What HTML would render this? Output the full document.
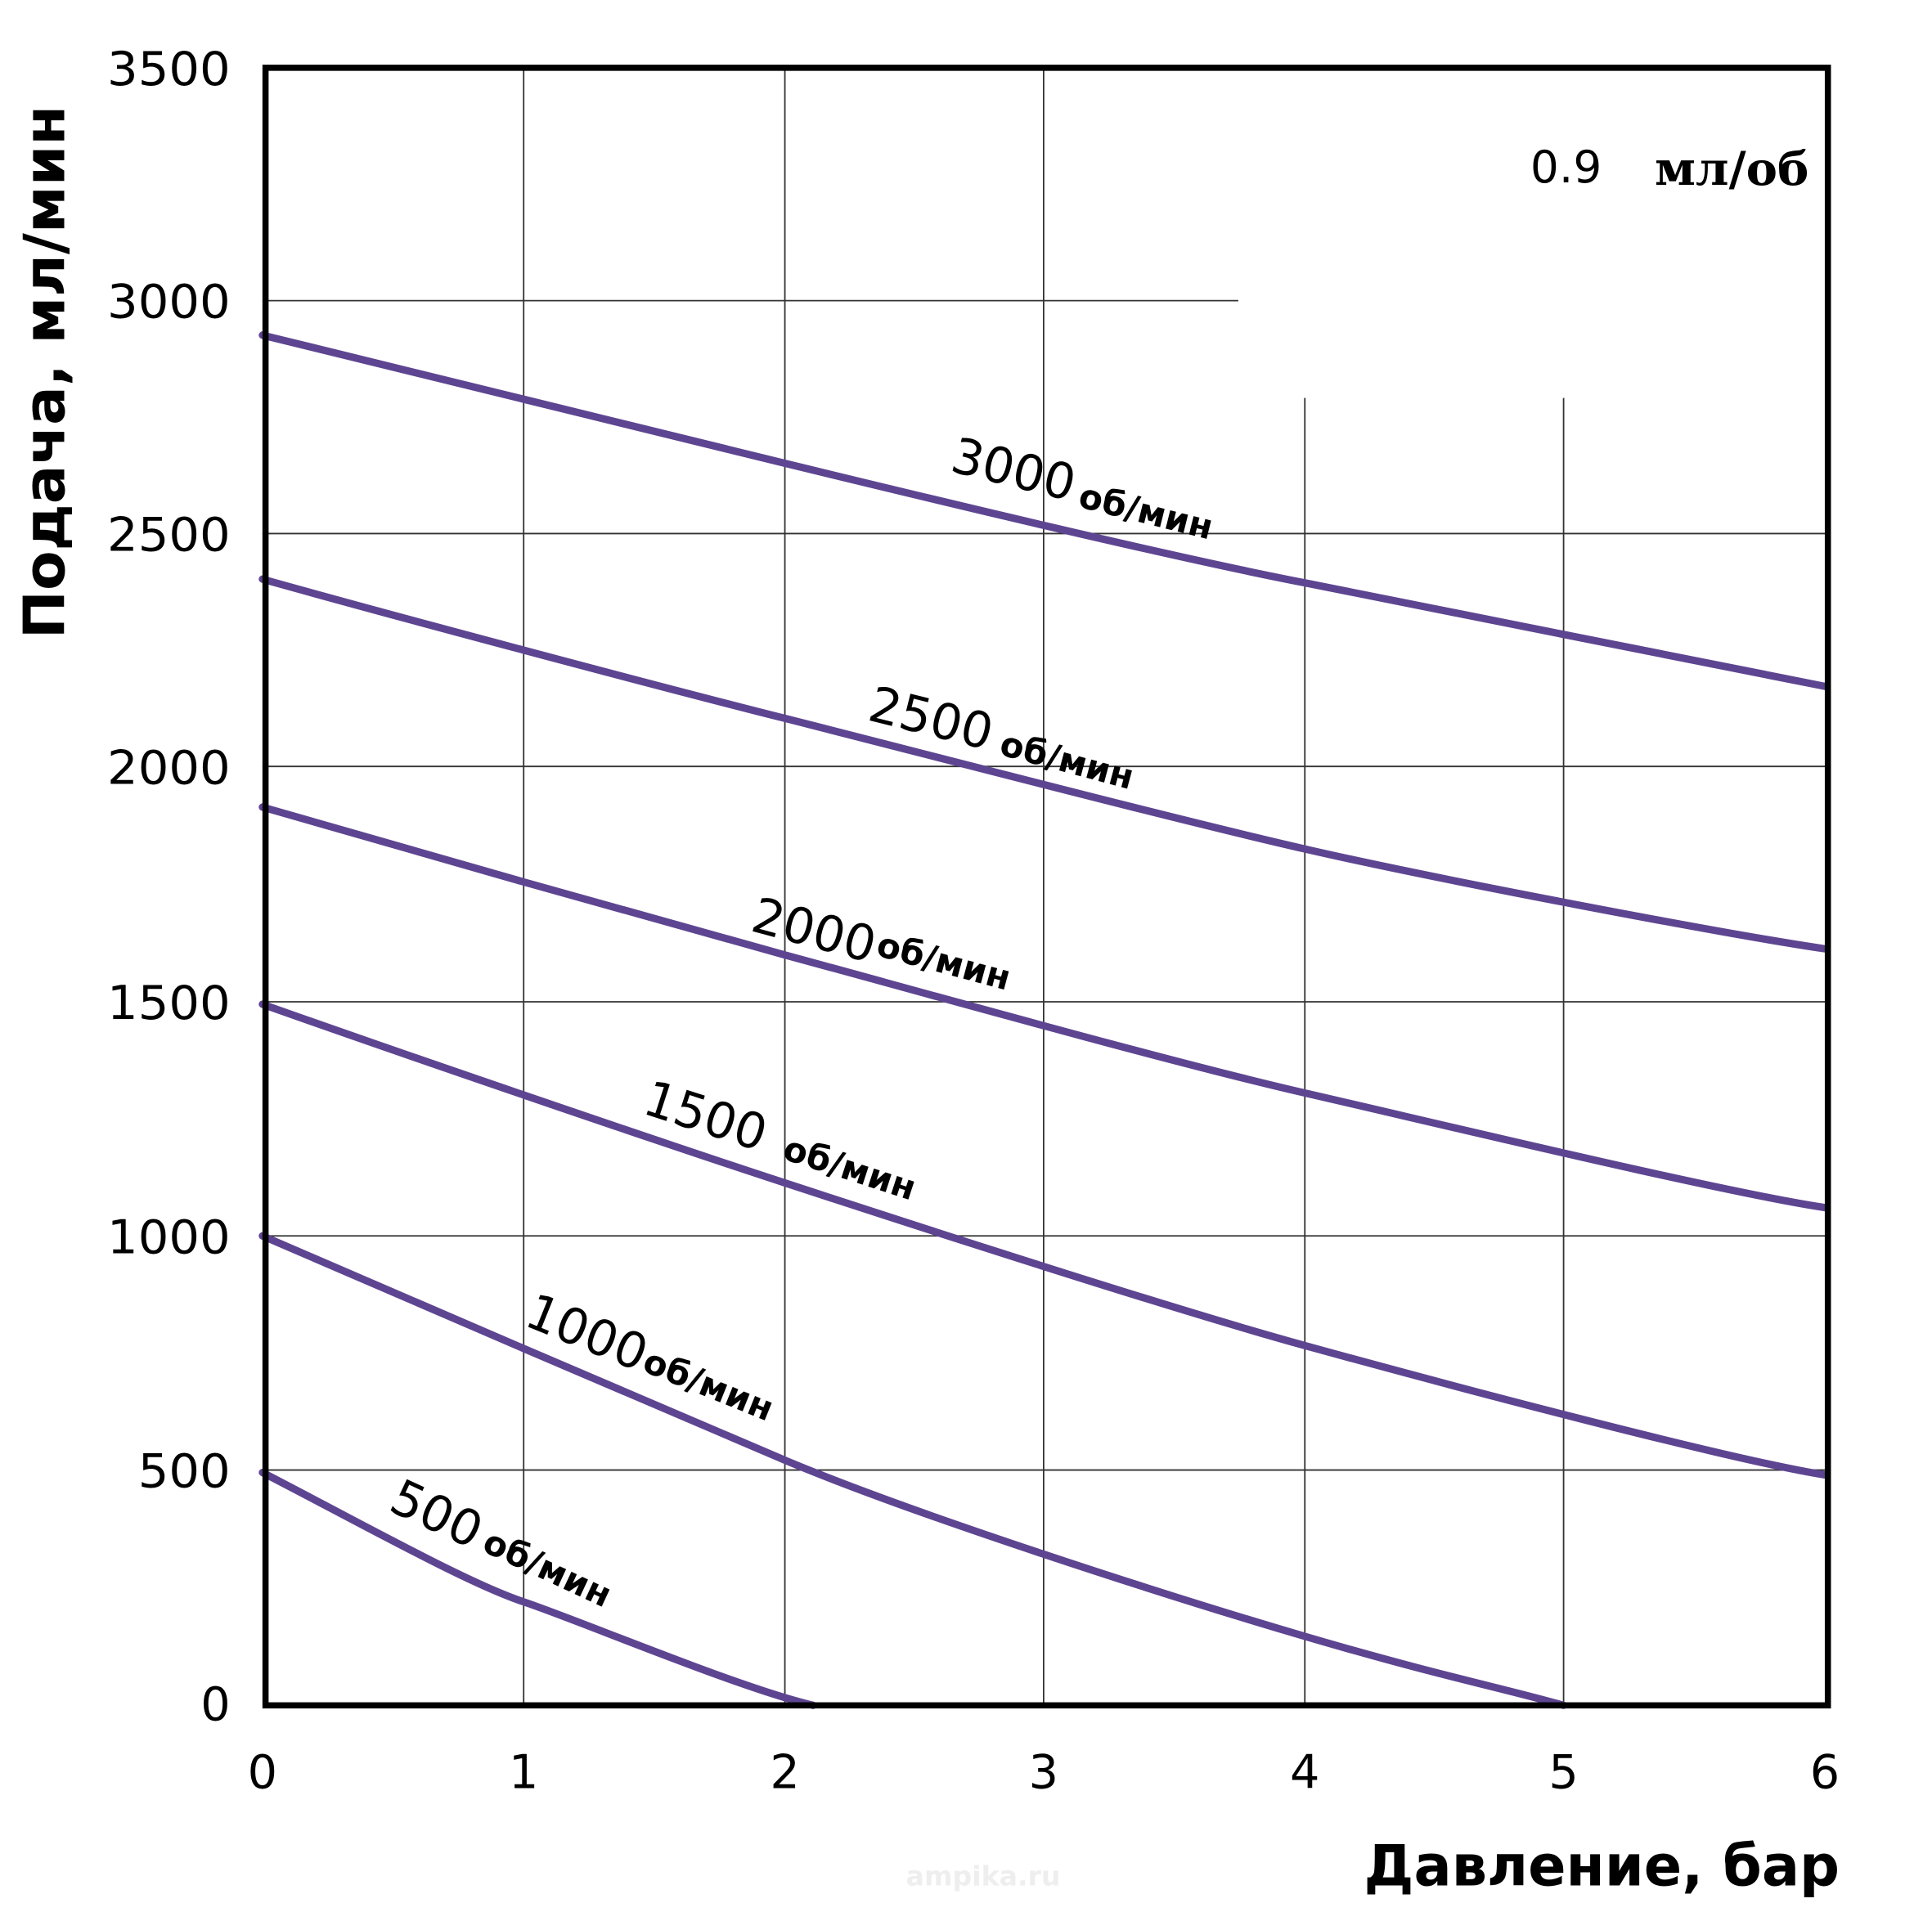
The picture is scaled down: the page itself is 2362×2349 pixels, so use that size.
<!DOCTYPE html>
<html><head><meta charset="utf-8"><style>html,body{margin:0;padding:0;background:#fff}svg{display:block}</style></head>
<body>
<svg width="2362" height="2349" viewBox="0 0 1568 1559" preserveAspectRatio="none" xmlns="http://www.w3.org/2000/svg">
<rect width="1568" height="1559" fill="#fff"/>
<g stroke="#333" stroke-width="1.2" fill="none">
<line x1="425" y1="55" x2="425" y2="1384"/>
<line x1="637" y1="55" x2="637" y2="1384"/>
<line x1="847" y1="55" x2="847" y2="1384"/>
<line x1="1059" y1="323" x2="1059" y2="1384"/>
<line x1="1269" y1="323" x2="1269" y2="1384"/>
<line x1="213" y1="244" x2="1005" y2="244"/>
<line x1="213" y1="433" x2="1486" y2="433"/>
<line x1="213" y1="622" x2="1486" y2="622"/>
<line x1="213" y1="813" x2="1486" y2="813"/>
<line x1="213" y1="1003" x2="1486" y2="1003"/>
<line x1="213" y1="1193" x2="1486" y2="1193"/>
</g>
<g stroke="#5e4591" stroke-width="6" fill="none" stroke-linecap="round">
<path d="M213,272 C320,298 530,350 637,376 S950,452 1059,473 S1400,542 1481,557"/>
<path d="M213,470 C320,500 530,556 637,583 S950,664 1059,689 S1400,758 1481,770"/>
<path d="M213,655 C320,686 530,746 637,775 S950,862 1059,887 S1400,968 1481,980"/>
<path d="M213,815 C320,853 530,925 637,960 S950,1062 1059,1092 S1400,1184 1481,1197"/>
<path d="M213,1003 C320,1049 530,1140 637,1185 S950,1296 1059,1328 S1220,1370 1269,1384"/>
<path d="M213,1195 C300,1240 380,1285 425,1300 S600,1370 660,1384"/>
</g>
<rect x="215.5" y="55" width="1268" height="1329" fill="none" stroke="#000" stroke-width="5"/>
<g font-family="'DejaVu Sans','Liberation Sans',sans-serif" font-size="38" fill="#000" text-anchor="end">
<text x="187" y="69" textLength="100" lengthAdjust="spacingAndGlyphs">3500</text>
<text x="187" y="258" textLength="100" lengthAdjust="spacingAndGlyphs">3000</text>
<text x="187" y="447" textLength="100" lengthAdjust="spacingAndGlyphs">2500</text>
<text x="187" y="636" textLength="100" lengthAdjust="spacingAndGlyphs">2000</text>
<text x="187" y="827" textLength="100" lengthAdjust="spacingAndGlyphs">1500</text>
<text x="187" y="1017" textLength="100" lengthAdjust="spacingAndGlyphs">1000</text>
<text x="187" y="1207" textLength="75" lengthAdjust="spacingAndGlyphs">500</text>
<text x="187" y="1396">0</text>
</g>
<g font-family="'DejaVu Sans','Liberation Sans',sans-serif" font-size="38" fill="#000" text-anchor="middle">
<text x="213" y="1451">0</text>
<text x="425" y="1451">1</text>
<text x="637" y="1451">2</text>
<text x="847" y="1451">3</text>
<text x="1059" y="1451">4</text>
<text x="1269" y="1451">5</text>
<text x="1481" y="1451">6</text>
</g>
<text x="1242" y="148" font-family="'DejaVu Sans',sans-serif" font-size="36" textLength="58" lengthAdjust="spacingAndGlyphs">0.9</text>
<text x="1343" y="150" font-family="'DejaVu Serif','Liberation Serif',serif" font-weight="bold" font-size="38" textLength="125" lengthAdjust="spacingAndGlyphs">мл/об</text>
<text transform="translate(52,302) rotate(-90)" text-anchor="middle" font-family="'DejaVu Sans','Liberation Sans',sans-serif" font-weight="bold" font-size="46" textLength="433" lengthAdjust="spacingAndGlyphs">Подача, мл/мин</text>
<text x="1493" y="1530" text-anchor="end" font-family="'DejaVu Sans','Liberation Sans',sans-serif" font-weight="bold" font-size="46" textLength="386" lengthAdjust="spacingAndGlyphs">Давление, бар</text>
<text x="798" y="1530" text-anchor="middle" font-family="'DejaVu Sans',sans-serif" font-weight="bold" font-size="22" fill="#eee">ampika.ru</text>
<g font-family="'DejaVu Sans','Liberation Sans',sans-serif" fill="#000">
<text transform="translate(770,382) rotate(14)" font-size="40">3000</text>
<text transform="translate(874,411) rotate(14)" font-size="28" font-weight="bold">об/мин</text>
<text transform="translate(703,584) rotate(14)" font-size="40">2500</text>
<text transform="translate(810,612) rotate(15)" font-size="28" font-weight="bold">об/мин</text>
<text transform="translate(608,755) rotate(15)" font-size="40">2000</text>
<text transform="translate(710,775) rotate(15)" font-size="28" font-weight="bold">об/мин</text>
<text transform="translate(520,903) rotate(18)" font-size="40">1500</text>
<text transform="translate(634,940) rotate(18)" font-size="28" font-weight="bold">об/мин</text>
<text transform="translate(424,1075) rotate(22)" font-size="40">1000</text>
<text transform="translate(520,1112) rotate(22)" font-size="28" font-weight="bold">об/мин</text>
<text transform="translate(314,1225) rotate(25)" font-size="40">500</text>
<text transform="translate(390,1258) rotate(25)" font-size="28" font-weight="bold">об/мин</text>
</g>
</svg>
</body></html>
